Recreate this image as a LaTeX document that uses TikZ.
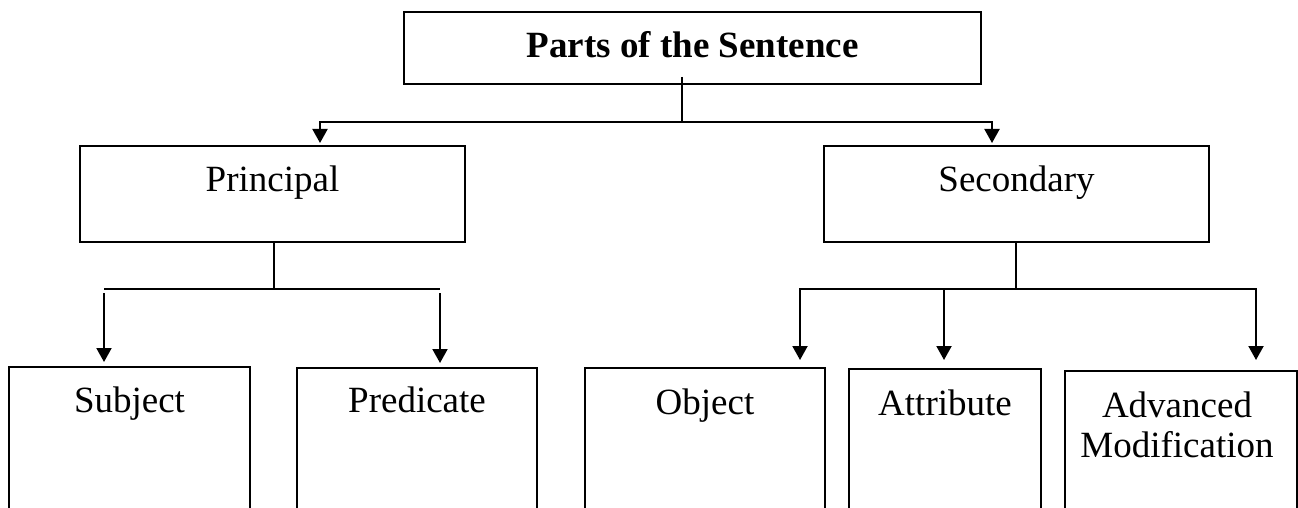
\documentclass[tikz,border=0pt]{standalone}
\usepackage{fontspec}
\setmainfont{Liberation Serif}
\usetikzlibrary{arrows.meta}
\begin{document}
\begin{tikzpicture}[x=1pt,y=-1pt,
  box/.style={draw, line width=2pt, rectangle, inner sep=0pt, anchor=north west},
  lbl/.style={font=\fontsize{37}{40}\selectfont, inner sep=0pt, anchor=base, align=center},
  conn/.style={line width=2pt},
  arr/.style={line width=2pt, -{Triangle[width=15pt,length=14pt]}}]
\useasboundingbox (0,0) rectangle (1298,508);
\clip (0,0) rectangle (1298,508);
% boxes
\node[box, minimum width=577pt, minimum height=72pt] (top) at (403,11) {};
\node[box, minimum width=385pt, minimum height=96pt] (prin) at (79,145) {};
\node[box, minimum width=385pt, minimum height=96pt] (sec) at (823,145) {};
\node[box, minimum width=241pt, minimum height=200pt] (subj) at (8,366) {};
\node[box, minimum width=240pt, minimum height=200pt] (pred) at (296,367) {};
\node[box, minimum width=240pt, minimum height=200pt] (obj) at (584,367) {};
\node[box, minimum width=192pt, minimum height=200pt] (attr) at (848,368) {};
\node[box, minimum width=232pt, minimum height=200pt] (adv) at (1064,370) {};
% labels
\node[lbl, font=\fontsize{37}{40}\selectfont\bfseries] (ttop) at ([yshift=-47pt]top.north) {Parts of the Sentence};
\node[lbl] (tprin) at ([yshift=-46pt]prin.north) {Principal};
\node[lbl] (tsec) at ([yshift=-46pt]sec.north) {Secondary};
\node[lbl] (tsubj) at ([yshift=-46pt]subj.north) {Subject};
\node[lbl] (tpred) at ([yshift=-45pt]pred.north) {Predicate};
\node[lbl] (tobj) at ([yshift=-47pt]obj.north) {Object};
\node[lbl] (tattr) at ([yshift=-47pt]attr.north) {Attribute};
\node[lbl, anchor=north] (tadv) at ([xshift=-4pt,yshift=-22pt]adv.north) {Advanced\\Modification};
% junction coordinates
\coordinate (j0) at (682,122);
\coordinate (la) at (320,122);
\coordinate (ra) at (992,122);
\coordinate (pj) at (273.5,289);
\coordinate (pl) at (104,289);
\coordinate (pr) at (440,289);
\coordinate (pls) at (104,293);
\coordinate (prs) at (440,293);
\coordinate (sj) at (1016,289);
\coordinate (sl) at (800,289);
\coordinate (sm) at (944,289);
\coordinate (sr) at (1256,289);
% top level
\draw[conn] ([yshift=8pt]top.south -| j0) -- (j0);
\draw[arr, shorten >=2pt] (j0) -- (la) -- (prin.north -| la);
\draw[arr, shorten >=2pt] (j0) -- (ra) -- (sec.north -| ra);
% principal
\draw[conn] (prin.south -| pj) -- (pj);
\draw[conn] (pl) -- (pr);
\draw[arr, shorten >=4pt] (pls) -- (subj.north -| pls);
\draw[arr, shorten >=4pt] (prs) -- (pred.north -| prs);
% secondary
\draw[conn] (sec.south -| sj) -- (sj);
\draw[arr, shorten >=7pt] (sj) -- (sl) -- (obj.north -| sl);
\draw[arr, shorten >=8pt] (sm) -- (attr.north -| sm);
\draw[arr, shorten >=10pt] (sj) -- (sr) -- (adv.north -| sr);
\end{tikzpicture}
\end{document}
